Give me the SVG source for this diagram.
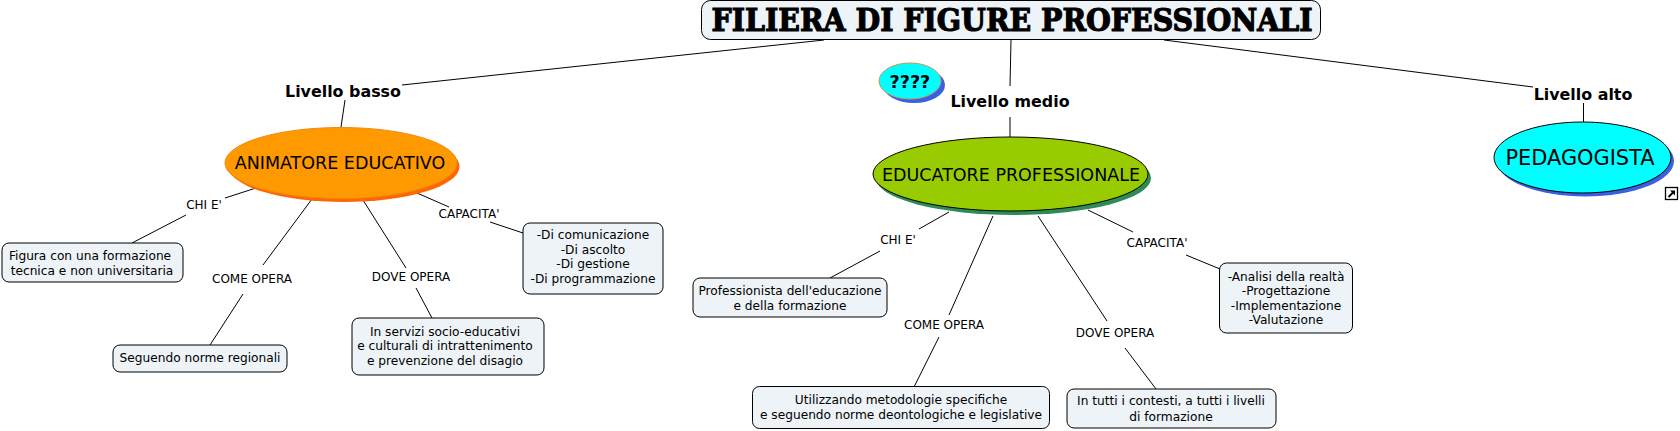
<svg xmlns="http://www.w3.org/2000/svg" width="1680" height="431" viewBox="0 0 1680 431">
<style>
text{font-family:"DejaVu Sans",Verdana,sans-serif;text-anchor:middle;fill:#000}
.box{fill:#edf3f6;stroke:#000;stroke-width:1}
.t{font-size:12.2px}
.l{font-size:12px}
.h{font-size:15.9px;font-weight:bold}
#connectors line{stroke:#000;stroke-width:1}
</style>
<rect width="1680" height="431" fill="#fff"/>
<g id="connectors">
<line x1="824" y1="40" x2="402" y2="85"/><line x1="345" y1="100" x2="341" y2="127"/>
<line x1="1011" y1="40" x2="1010" y2="86"/><line x1="1010" y1="117" x2="1010" y2="137"/>
<line x1="1164" y1="40" x2="1533" y2="87"/><line x1="1583.5" y1="103" x2="1583.5" y2="122"/>
<line x1="256" y1="188" x2="225" y2="198"/><line x1="186" y1="215" x2="132" y2="243"/>
<line x1="312" y1="199" x2="263" y2="265"/><line x1="243" y1="294" x2="210" y2="345"/>
<line x1="363" y1="200" x2="406" y2="268"/><line x1="416" y1="288" x2="432" y2="318"/>
<line x1="417" y1="193" x2="449" y2="207"/><line x1="490" y1="222" x2="523" y2="233"/>
<line x1="949" y1="212" x2="919" y2="229"/><line x1="880" y1="251" x2="830" y2="278"/>
<line x1="993" y1="216" x2="949" y2="315"/><line x1="939" y1="337" x2="914" y2="387"/>
<line x1="1038" y1="216" x2="1107" y2="321"/><line x1="1125" y1="348" x2="1156" y2="389"/>
<line x1="1088" y1="210" x2="1133" y2="232"/><line x1="1186" y1="255" x2="1220" y2="269"/>
</g>
<g id="title"><rect class="box" x="701.500" y="0.500" width="619" height="39" rx="9"/>
<text x="1012" y="31" font-size="31" font-weight="bold" textLength="601" lengthAdjust="spacingAndGlyphs" stroke="#000" stroke-width="1.2" style="font-family:'DejaVu Serif',serif">FILIERA DI FIGURE PROFESSIONALI</text></g>
<g id="q"><ellipse cx="914" cy="85" rx="31" ry="18" fill="#3860e0"/><ellipse cx="910" cy="81" rx="31" ry="18" fill="#00ffff" stroke="#c89a50"/>
<text x="889.500" y="88" font-size="17.6" font-weight="bold" style="text-anchor:start">????</text></g>
<g id="l1"><text class="h" x="343" y="97">Livello basso</text></g>
<g id="l2"><text class="h" x="1010" y="107">Livello medio</text></g>
<g id="l3"><text class="h" x="1583" y="100">Livello alto</text></g>
<g id="animatore"><ellipse cx="344" cy="166.500" rx="115.500" ry="35.500" fill="#ff6600"/><ellipse cx="341" cy="163" rx="116" ry="35.500" fill="#ff9900" stroke="#f08a10"/>
<text x="340" y="169" font-size="17.500">ANIMATORE EDUCATIVO</text></g>
<g id="educatore"><ellipse cx="1013.500" cy="178" rx="137.500" ry="37" fill="#2e8b57"/><ellipse cx="1010.500" cy="174" rx="137.500" ry="37" fill="#99cc00" stroke="#000"/>
<text x="1011" y="181" font-size="17.500">EDUCATORE PROFESSIONALE</text></g>
<g id="pedagogista"><ellipse cx="1585.500" cy="161" rx="88.500" ry="35.500" fill="#3860e0"/><ellipse cx="1582.500" cy="157.500" rx="88.500" ry="35.500" fill="#00ffff" stroke="#000"/>
<text x="1580" y="165" font-size="20.900">PEDAGOGISTA</text>
<rect x="1665.500" y="187.500" width="12" height="12" fill="#fff" stroke="#000" stroke-width="1.300"/><path d="M1668.500 197L1673 192.500" fill="none" stroke="#000" stroke-width="2"/><path d="M1670 190.500H1675V195.500Z" fill="#000"/></g>
<g id="n1"><text class="l" x="204" y="209">CHI E'</text></g>
<g id="n2"><text class="l" x="252" y="283">COME OPERA</text></g>
<g id="n3"><text class="l" x="411" y="281">DOVE OPERA</text></g>
<g id="n4"><text class="l" x="469" y="218">CAPACITA'</text></g>
<g id="n5"><rect class="box" x="2" y="243" width="181" height="39" rx="7"/><text class="t" x="90" y="260">Figura con una formazione</text><text class="t" x="92" y="275">tecnica e non universitaria</text></g>
<g id="n6"><rect class="box" x="113" y="345" width="174" height="27" rx="7"/><text class="t" x="200" y="362">Seguendo norme regionali</text></g>
<g id="n7"><rect class="box" x="352" y="318" width="192" height="57" rx="7"/><text class="t" x="445" y="336">In servizi socio-educativi</text><text class="t" x="445" y="350">e culturali di intrattenimento</text><text class="t" x="445" y="365">e prevenzione del disagio</text></g>
<g id="n8"><rect class="box" x="523" y="223" width="140" height="71" rx="7"/><text class="t" x="593" y="239">-Di comunicazione</text><text class="t" x="593" y="254">-Di ascolto</text><text class="t" x="593" y="268">-Di gestione</text><text class="t" x="593" y="283">-Di programmazione</text></g>
<g id="n9"><text class="l" x="898" y="244">CHI E'</text></g>
<g id="n10"><text class="l" x="944" y="329">COME OPERA</text></g>
<g id="n11"><text class="l" x="1115" y="337">DOVE OPERA</text></g>
<g id="n12"><text class="l" x="1157" y="247">CAPACITA'</text></g>
<g id="n13"><rect class="box" x="693" y="278" width="194" height="39" rx="7"/><text class="t" x="790" y="295">Professionista dell'educazione</text><text class="t" x="790" y="310">e della formazione</text></g>
<g id="n14"><rect class="box" x="752.500" y="386.500" width="297" height="42" rx="7"/><text class="t" x="901" y="404">Utilizzando metodologie specifiche</text><text class="t" x="901" y="419">e seguendo norme deontologiche e legislative</text></g>
<g id="n15"><rect class="box" x="1067" y="389" width="209" height="39" rx="7"/><text class="t" x="1171" y="405">In tutti i contesti, a tutti i livelli</text><text class="t" x="1171" y="421">di formazione</text></g>
<g id="n16"><rect class="box" x="1219.500" y="263" width="133" height="70" rx="7"/><text class="t" x="1286" y="281">-Analisi della realtà</text><text class="t" x="1286" y="295">-Progettazione</text><text class="t" x="1286" y="310">-Implementazione</text><text class="t" x="1286" y="324">-Valutazione</text></g>
</svg>
